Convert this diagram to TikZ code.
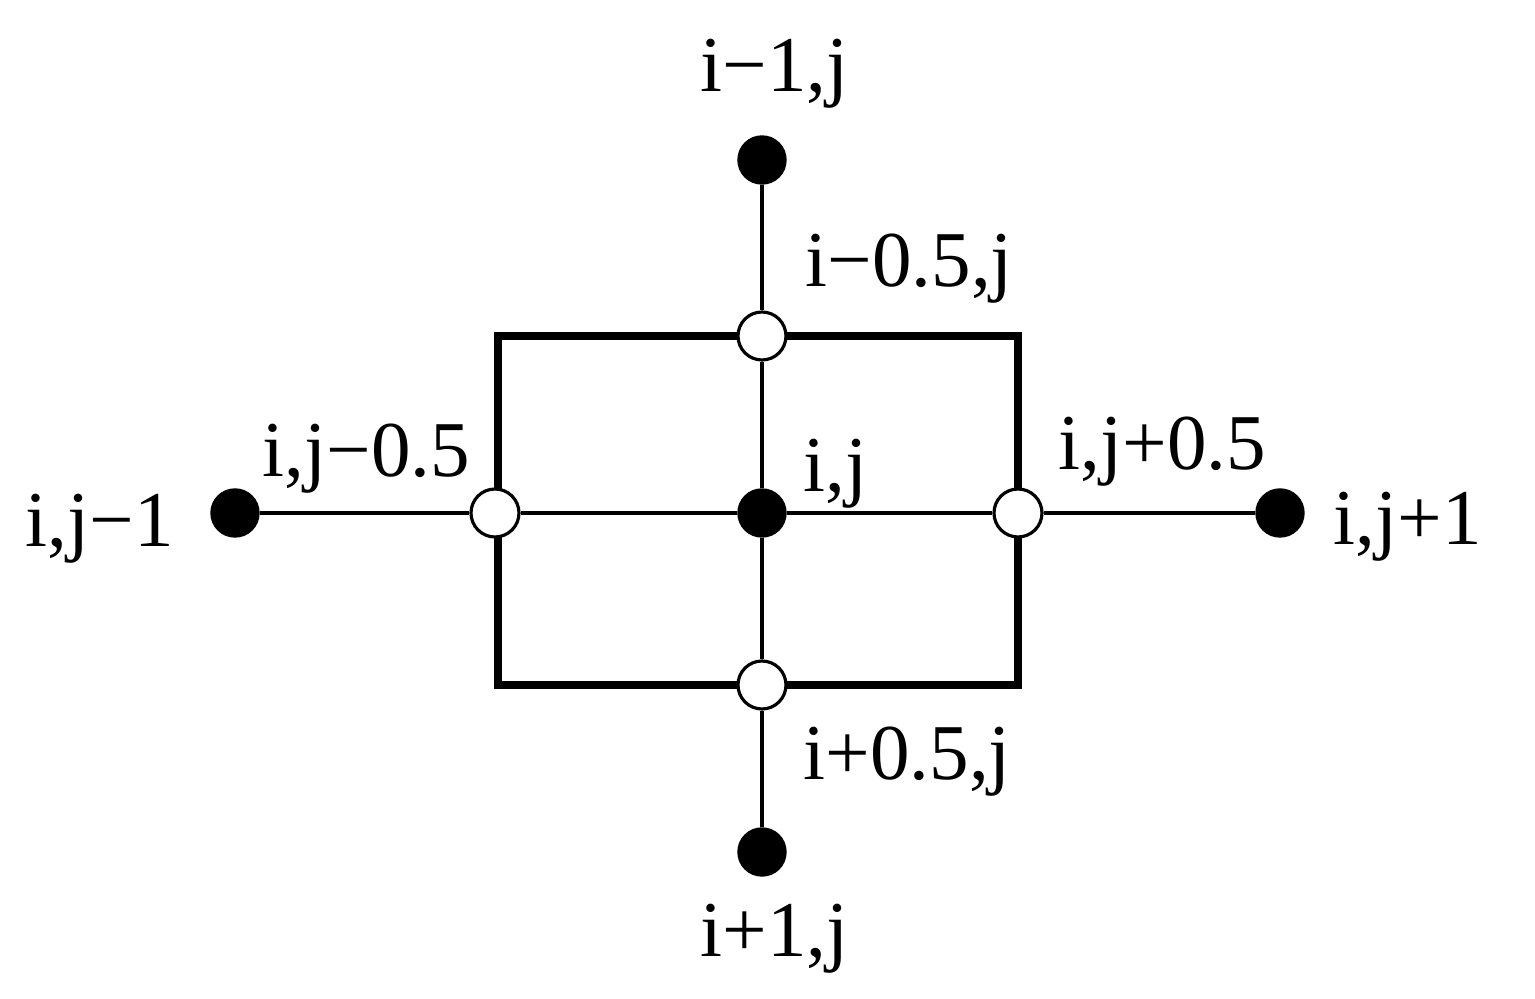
\documentclass[tikz,border=0pt]{standalone}
\usepackage{fontspec}
\setmainfont{Liberation Serif}
\begin{document}
\begin{tikzpicture}
        [grid/.style={circle,draw,fill=black,minimum size=0.48cm,inner sep=0pt},
        face/.style={circle,draw,line width=0.9pt,fill=white,minimum size=0.48cm,inner sep=0pt},
        lbl/.style={anchor=base west,inner sep=0pt,font=\fontsize{22.5}{27}\selectfont},
        link/.style={line width=1pt},
        cell/.style={line width=2.2pt}]
        \useasboundingbox (-7.62,-4.86) rectangle (7.73,5.13);
        \coordinate (tl) at (-2.64,1.77);
        \coordinate (tr) at (2.56,1.77);
        \coordinate (br) at (2.56,-1.72);
        \coordinate (bl) at (-2.64,-1.72);
        \draw[cell] (tl) -- (tr) -- (br) -- (bl) -- cycle;
        
        \node[grid] (C) at (0,0) {};
        \node[grid] (N) at (0,3.53) {};
        \node[grid] (S) at (0,-3.39) {};
        \node[grid] (W) at (-5.27,0) {};
        \node[grid] (E) at (5.18,0) {};
        \node[face] (n) at (0,1.77) {};
        \node[face] (s) at (0,-1.72) {};
        \node[face] (w) at (-2.67,0) {};
        \node[face] (e) at (2.56,0) {};
        
        \draw[link] (N) -- (n);
        \draw[link] (n) -- (C);
        \draw[link] (C) -- (s);
        \draw[link] (s) -- (S);
        \draw[link] (W) -- (w);
        \draw[link] (w) -- (C);
        \draw[link] (C) -- (e);
        \draw[link] (e) -- (E);
        
        \node[lbl] (lN) at (-0.62,4.21) {i−1,j};
        \node[lbl] (ln) at (0.43,2.26) {i−0.5,j};
        \node[lbl] (lw) at (-5.00,0.36) {i,j−0.5};
        \node[lbl] (lC) at (0.41,0.21) {i,j};
        \node[lbl] (le) at (2.96,0.43) {i,j+0.5};
        \node[lbl] (lW) at (-7.37,-0.34) {i,j−1};
        \node[lbl] (lE) at (5.71,-0.32) {i,j+1};
        \node[lbl] (ls) at (0.41,-2.67) {i+0.5,j};
        \node[lbl] (lS) at (-0.62,-4.44) {i+1,j};
    
    \end{tikzpicture}
\end{document}
